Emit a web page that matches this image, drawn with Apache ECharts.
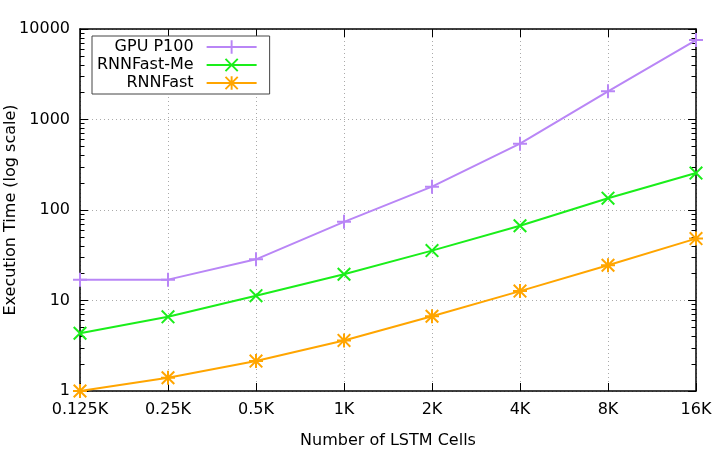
<!DOCTYPE html>
<html lang="en">
<head>
    <meta charset="UTF-8">
    <title>LSTM execution time</title>
    <script src="https://cdn.jsdelivr.net/npm/echarts@6/dist/echarts.min.js"></script>
    <style>
        html, body { margin: 0; padding: 0; background: #fff; }
        #chart { width: 713px; height: 450px; }
    </style>
</head>
<body>
    <div id="chart"></div>
    <script>
        // data
        const cells = ['0.125K', '0.25K', '0.5K', '1K', '2K', '4K', '8K', '16K'];
        const gpuP100 = [17, 17, 28.5, 74, 181, 540, 2050, 7550];
        const rnnFastMe = [4.35, 6.6, 11.3, 19.5, 35.6, 67, 135, 256];
        const rnnFast = [1.0, 1.4, 2.14, 3.62, 6.7, 12.7, 24.5, 48.3];

        const FONT = 'DejaVu Sans';

        // gnuplot style point shapes (14x14 box)
        const plusPath = 'path://M6,0H8V6H14V8H8V14H6V8H0V6H6Z';
        const crossPath = 'path://M0,1.41L1.41,0L7,5.59L12.59,0L14,1.41L8.41,7L14,12.59L12.59,14L7,8.41L1.41,14L0,12.59L5.59,7Z';
        const starPath = plusPath + ' ' + crossPath.replace('path://', '');

        // log minor ticks 2..9 in every decade
        const minorTicks = [];
        for (let d = 1; d < 10000; d *= 10) {
            for (let k = 2; k <= 9; k++) minorTicks.push(k * d);
        }

        const chart = echarts.init(document.getElementById('chart'));

        function logAxis(pos, labels, ticks, len) {
            return {
                type: 'log',
                logBase: 10,
                position: pos,
                min: 1,
                max: 10000,
                splitNumber: 4,
                axisLine: { show: labels, lineStyle: { color: '#000', width: 1.5 } },
                axisTick: ticks
                    ? { show: true, inside: true, length: len, customValues: ticks, lineStyle: { color: '#000' } }
                    : { show: true, inside: true, length: len, lineStyle: { color: '#000' } },
                axisLabel: {
                    show: labels && pos === 'left' && !ticks,
                    fontFamily: FONT,
                    fontSize: 16,
                    color: '#000',
                    margin: 10,
                    formatter: v => String(Math.round(v))
                },
                splitLine: { show: false },
                minorTick: { show: false }
            };
        }

        const yMain = logAxis('left', true, null, 8);
        yMain.name = 'Execution Time (log scale)';
        yMain.nameLocation = 'middle';
        yMain.nameGap = 61;
        yMain.nameMoveOverlap = false;
        yMain.nameTextStyle = { fontFamily: FONT, fontSize: 16, color: '#000' };
        yMain.splitLine = { show: true, lineStyle: { color: '#aaa', type: [1, 3], width: 1 } };

        const yLeftMinor = logAxis('left', false, minorTicks, 4.5);
        const yRight = logAxis('right', true, null, 8);
        const yRightMinor = logAxis('right', false, minorTicks, 4.5);

        function makeSeries(name, data, color, symbol) {
            return {
                name: name,
                type: 'line',
                data: data,
                xAxisIndex: 0,
                yAxisIndex: 0,
                symbol: symbol,
                symbolSize: 14,
                showAllSymbol: true,
                lineStyle: { color: color, width: 2 },
                itemStyle: { color: color },
                emphasis: { disabled: true },
                animation: false
            };
        }

        const option = {
            animation: false,
            textStyle: { fontFamily: FONT },
            grid: { left: 80, right: 17, top: 29, bottom: 59, outerBoundsMode: 'none', containLabel: false },
            legend: {
                orient: 'vertical',
                left: 92,
                top: 36,
                align: 'right',
                itemWidth: 50,
                itemHeight: 17,
                itemGap: 2,
                padding: [3, 12, 3, 5],
                borderColor: '#444',
                borderWidth: 1,
                backgroundColor: '#fff',
                textStyle: { fontFamily: FONT, fontSize: 16, color: '#000', padding: [0, 8, 0, 0] },
                data: ['GPU P100', 'RNNFast-Me', 'RNNFast']
            },
            xAxis: [{
                type: 'category',
                data: cells,
                boundaryGap: false,
                position: 'bottom',
                name: 'Number of LSTM Cells',
                nameLocation: 'middle',
                nameGap: 42,
                nameTextStyle: { fontFamily: FONT, fontSize: 16, color: '#000' },
                axisLine: { lineStyle: { color: '#000', width: 1.5 } },
                axisTick: { inside: true, length: 8, lineStyle: { color: '#000' } },
                axisLabel: { fontFamily: FONT, fontSize: 16, color: '#000', margin: 11, interval: 0 },
                splitLine: { show: true, lineStyle: { color: '#aaa', type: [1, 3], width: 1 } }
            }, {
                type: 'category',
                data: cells,
                boundaryGap: false,
                position: 'top',
                axisLine: { lineStyle: { color: '#000', width: 1.5 } },
                axisTick: { inside: true, length: 8, lineStyle: { color: '#000' } },
                axisLabel: { show: false },
                splitLine: { show: false }
            }],
            yAxis: [yMain, yLeftMinor, yRight, yRightMinor],
            series: [
                makeSeries('GPU P100', gpuP100, '#b986f6', plusPath),
                makeSeries('RNNFast-Me', rnnFastMe, '#1aee1a', crossPath),
                makeSeries('RNNFast', rnnFast, '#ffa500', starPath)
            ]
        };

        chart.setOption(option);
    </script>
</body>
</html>
